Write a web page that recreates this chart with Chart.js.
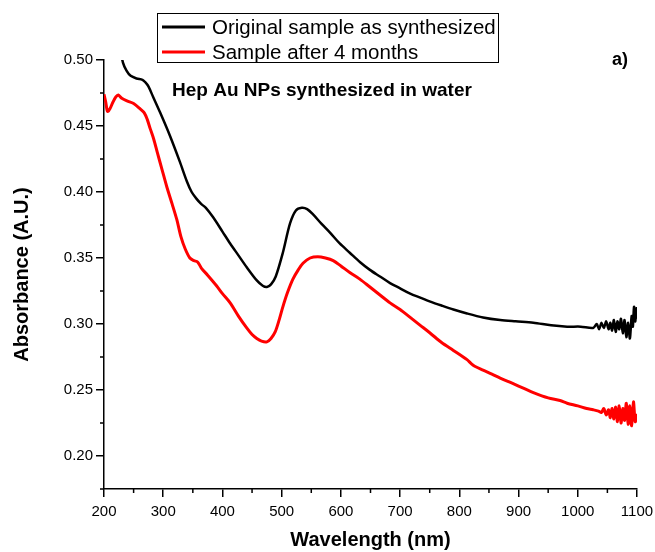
<!DOCTYPE html>
<html lang="en">
<head>
    <meta charset="UTF-8">
    <title>Hep Au NPs absorbance</title>
    <script src="https://cdn.jsdelivr.net/npm/chart.js"></script>
    <style>
        html, body { margin: 0; padding: 0; background: #fff; }
        .container { width: 655px; height: 552px; }
    </style>
</head>
<body>
<div class="container">
    <canvas id="absChart" width="655" height="552"></canvas>
</div>

<script>
    // values
    const blackWl = [226, 232, 238, 245, 255, 265, 270, 275, 283, 295, 311, 328, 340, 348, 356, 364, 372, 384, 400, 413, 427,
        441, 458, 468, 475, 482, 490, 502, 514, 524, 534, 543, 553, 567, 582, 598, 615, 632, 649, 666, 683,
        700, 717, 734, 751, 770, 790, 813, 840, 869, 895, 925, 955, 982, 1005, 1026,
        1032, 1036, 1040, 1044, 1048, 1052, 1055, 1058, 1061, 1064, 1067, 1070, 1073, 1076, 1079, 1082, 1085, 1088,
        1091, 1093, 1095, 1097, 1099, 1100];
    const blackAbs = [0.512, 0.498, 0.492, 0.488, 0.486, 0.485, 0.483, 0.480, 0.472, 0.460, 0.443, 0.423, 0.408, 0.400, 0.395, 0.391, 0.388, 0.381, 0.370, 0.361, 0.352,
        0.343, 0.333, 0.329, 0.328, 0.330, 0.336, 0.354, 0.376, 0.386, 0.388, 0.387, 0.383, 0.376, 0.369, 0.361, 0.354, 0.347, 0.341, 0.336, 0.331,
        0.327, 0.323, 0.320, 0.317, 0.314, 0.311, 0.308, 0.305, 0.303, 0.302, 0.301, 0.299, 0.298, 0.298, 0.297,
        0.300, 0.296, 0.301, 0.297, 0.302, 0.296, 0.301, 0.295, 0.303, 0.294, 0.302, 0.296, 0.304, 0.293, 0.303, 0.290, 0.301, 0.289,
        0.306, 0.298, 0.313, 0.302, 0.312, 0.304];

    const redWl = [200, 203, 206, 210, 215, 220, 224, 230, 239, 250, 261, 268, 273, 278, 284, 290, 298, 306, 315, 323,
        330, 337, 345, 352, 358, 365, 375, 390, 400, 413, 427, 441, 450, 458, 466, 475, 482, 489, 495, 502,
        510, 519, 528, 536, 548, 561, 574, 587, 600, 615, 632, 649, 666, 683, 700, 717, 734, 751, 770, 790,
        813, 820, 826, 840, 855, 869, 890, 910, 925, 950, 970, 982, 1000, 1015, 1026, 1035,
        1040, 1044, 1048, 1052, 1055, 1058, 1061, 1064, 1067, 1070, 1073, 1076, 1079, 1082, 1085, 1088, 1091, 1094, 1097, 1100];
    const redAbs = [0.474, 0.468, 0.461, 0.463, 0.468, 0.472, 0.4735, 0.471, 0.469, 0.467, 0.463, 0.460, 0.455, 0.448, 0.440, 0.430, 0.417, 0.404, 0.391, 0.379,
        0.366, 0.357, 0.350, 0.348, 0.347, 0.342, 0.337, 0.329, 0.323, 0.316, 0.306, 0.297, 0.292, 0.289, 0.287, 0.2865, 0.289, 0.294, 0.302, 0.313,
        0.324, 0.334, 0.341, 0.346, 0.350, 0.351, 0.350, 0.348, 0.344, 0.339, 0.334, 0.328, 0.322, 0.316, 0.311, 0.305, 0.299, 0.293, 0.286, 0.280,
        0.273, 0.270, 0.268, 0.265, 0.262, 0.259, 0.255, 0.251, 0.248, 0.244, 0.242, 0.240, 0.238, 0.236, 0.235, 0.234,
        0.233, 0.236, 0.231, 0.235, 0.229, 0.236, 0.228, 0.237, 0.226, 0.238, 0.225, 0.236, 0.227, 0.240, 0.224, 0.238, 0.223, 0.241, 0.226, 0.232];

    const xTicks = [200, 300, 400, 500, 600, 700, 800, 900, 1000, 1100];
    const xMinor = [250, 350, 450, 550, 650, 750, 850, 950, 1050];
    const yTicks = [0.20, 0.25, 0.30, 0.35, 0.40, 0.45, 0.50];
    const yMinor = [0.175, 0.225, 0.275, 0.325, 0.375, 0.425, 0.475];

    const seriesLabels = ["Original sample as synthesized", "Sample after 4 months"];
    const noteText = "Hep Au NPs synthesized in water";
    const panelText = "a)";

    const FONT = "'Liberation Sans', Arial, sans-serif";

    function toPoints(xs, ys) {
        return xs.map((x, i) => ({ x: x, y: ys[i] }));
    }

    // minor ticks, legend box and the two text notes
    const extras = {
        id: 'extras',
        afterDraw(chart) {
            const ctx = chart.ctx;
            const xs = chart.scales.x, ys = chart.scales.y;
            const area = chart.chartArea;
            ctx.save();
            ctx.strokeStyle = '#000';
            ctx.lineWidth = 1.5;
            ctx.beginPath();
            xMinor.forEach(v => {
                const px = xs.getPixelForValue(v);
                ctx.moveTo(px, area.bottom);
                ctx.lineTo(px, area.bottom + 4);
            });
            yMinor.forEach(v => {
                const py = ys.getPixelForValue(v);
                ctx.moveTo(area.left, py);
                ctx.lineTo(area.left - 4, py);
            });
            ctx.stroke();

            // legend
            ctx.lineWidth = 1;
            ctx.strokeRect(157.5, 13.5, 341, 49);
            ctx.font = '20.5px ' + FONT;
            ctx.textBaseline = 'middle';
            ctx.textAlign = 'left';
            chart.data.datasets.forEach((ds, i) => {
                const y = 27 + i * 25;
                ctx.strokeStyle = ds.borderColor;
                ctx.lineWidth = 3;
                ctx.beginPath();
                ctx.moveTo(162, y);
                ctx.lineTo(205, y);
                ctx.stroke();
                ctx.fillStyle = '#000';
                ctx.fillText(ds.label, 212, y + 1);
            });

            ctx.font = 'bold 19px ' + FONT;
            ctx.fillText(noteText, 172, 91);
            ctx.font = 'bold 18px ' + FONT;
            ctx.fillText(panelText, 612, 60);
            ctx.restore();
        }
    };

    const ctx = document.getElementById('absChart').getContext('2d');
    new Chart(ctx, {
        type: 'line',
        data: {
            datasets: [{
                label: seriesLabels[0],
                data: toPoints(blackWl, blackAbs),
                borderColor: '#000000',
                borderWidth: 2.5,
                pointRadius: 0,
                tension: 0.3,
                fill: false
            }, {
                label: seriesLabels[1],
                data: toPoints(redWl, redAbs),
                borderColor: '#ff0000',
                borderWidth: 3,
                pointRadius: 0,
                tension: 0.3,
                fill: false
            }]
        },
        options: {
            responsive: false,
            animation: false,
            layout: { padding: { left: 0, right: 18, top: 60, bottom: 0 } },
            plugins: {
                legend: { display: false },
                tooltip: { enabled: false }
            },
            scales: {
                x: {
                    type: 'linear',
                    min: 200,
                    max: 1100,
                    afterFit: s => { s.height = 63; s.paddingLeft = 0; s.paddingRight = 0; },
                    afterBuildTicks: s => { s.ticks = xTicks.map(v => ({ value: v })); },
                    ticks: {
                        autoSkip: false,
                        maxRotation: 0,
                        padding: 6,
                        color: '#000',
                        font: { family: FONT, size: 15 },
                        callback: v => String(v)
                    },
                    grid: {
                        drawOnChartArea: false,
                        drawTicks: true,
                        tickLength: 8,
                        color: 'rgba(0,0,0,0)',
                        tickColor: '#000',
                        lineWidth: 1.5
                    },
                    border: { display: true, color: '#000', width: 1.5 },
                    title: {
                        display: true,
                        text: 'Wavelength (nm)',
                        color: '#000',
                        font: { family: FONT, size: 20, weight: 'bold' },
                        padding: { top: 0, bottom: 0 }
                    }
                },
                y: {
                    type: 'linear',
                    min: 0.175,
                    max: 0.50,
                    afterFit: s => { s.width = 104; },
                    afterBuildTicks: s => { s.ticks = yTicks.map(v => ({ value: v })); },
                    ticks: {
                        padding: 3,
                        color: '#000',
                        font: { family: FONT, size: 15 },
                        callback: v => v.toFixed(2)
                    },
                    grid: {
                        drawOnChartArea: false,
                        drawTicks: true,
                        tickLength: 8,
                        color: 'rgba(0,0,0,0)',
                        tickColor: '#000',
                        lineWidth: 1.5
                    },
                    border: { display: true, color: '#000', width: 1.5 },
                    title: {
                        display: true,
                        text: 'Absorbance (A.U.)',
                        color: '#000',
                        font: { family: FONT, size: 20, weight: 'bold' },
                        padding: { top: 10, bottom: 0 }
                    }
                }
            }
        },
        plugins: [extras]
    });
</script>
</body>
</html>
